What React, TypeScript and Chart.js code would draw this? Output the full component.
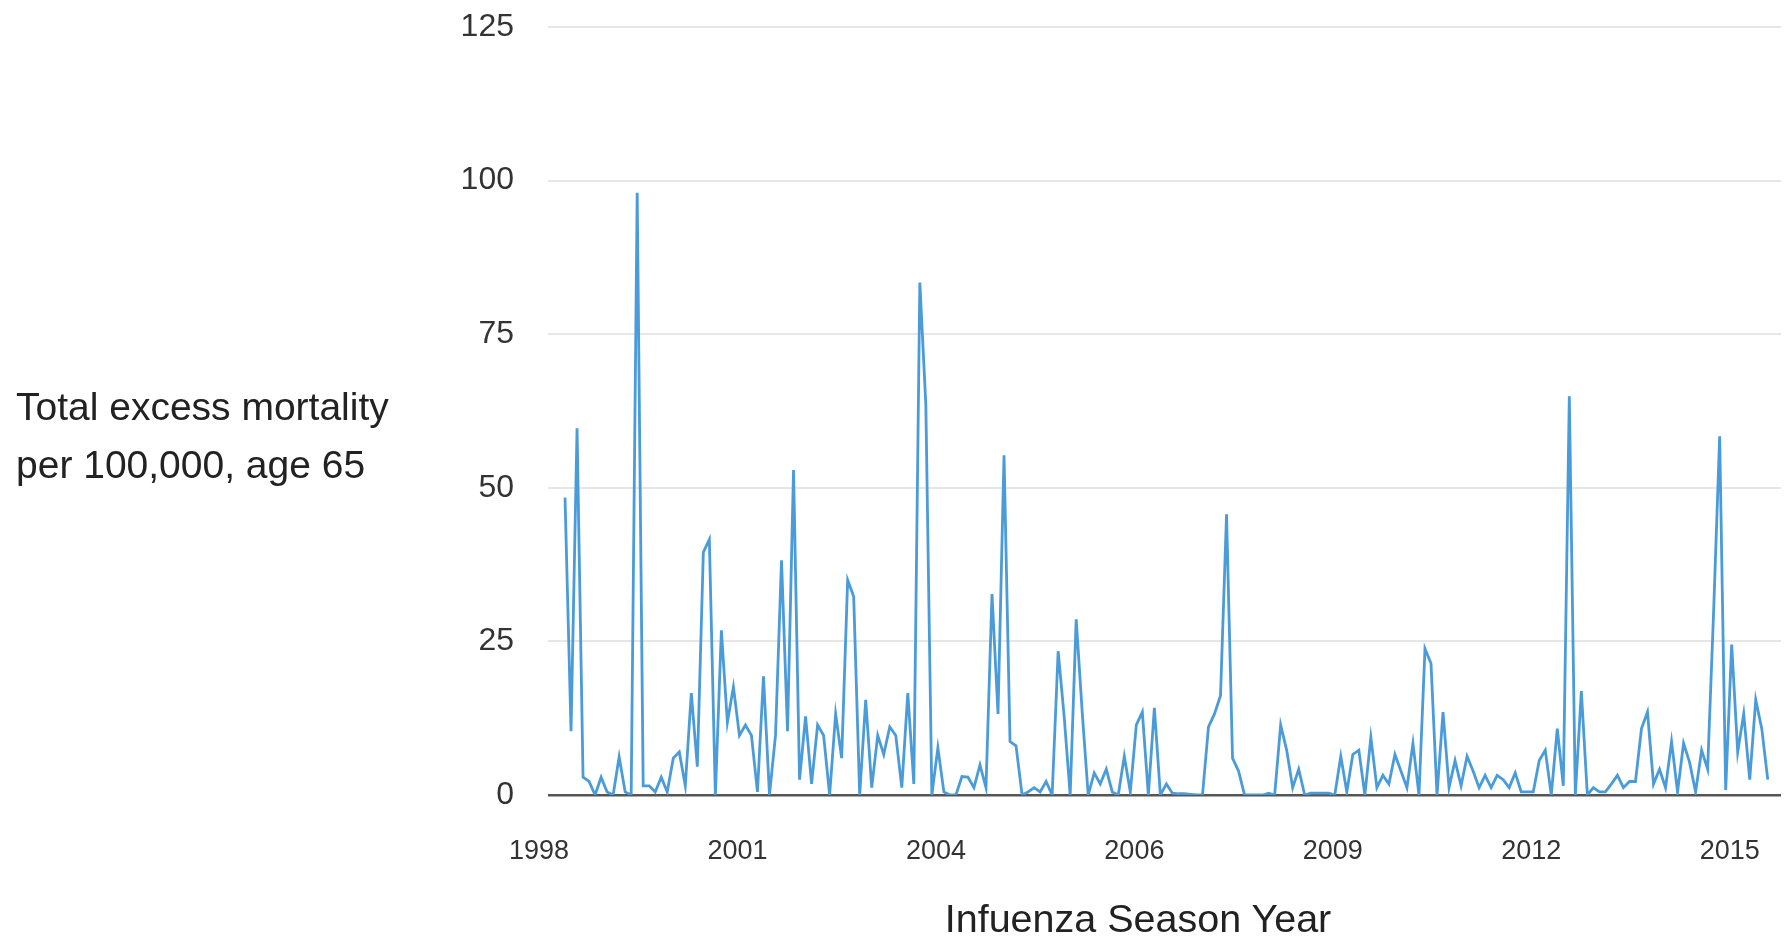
import { useEffect, useRef } from 'react';
import { Chart, registerables } from 'chart.js';

Chart.register(...registerables);

// Monthly excess mortality values
const mortality: number[] = [
  48.4, 10.4, 59.7, 2.9, 2.2, 0, 2.9, 0.5, 0, 6.2,
  0.5, 0, 98, 1.5, 1.5, 0.5, 2.9, 0.5, 6, 7,
  1.5, 16.6, 4.6, 39.5, 41.6, 0, 26.8, 11.8, 17.6, 9.7,
  11.4, 9.7, 0.5, 19.3, 0, 9.7, 38.2, 10.4, 52.9, 2.5,
  12.8, 1.8, 11.4, 9.7, 0, 13.2, 6, 35, 32.3, 0,
  15.5, 1.2, 9.7, 6.6, 11.1, 9.7, 1.2, 16.6, 1.8, 83.4,
  63.5, 0, 7.7, 0.5, 0, 0, 3,
  2.9, 1.2, 4.9, 1.2, 32.7, 13.2, 55.3, 8.7, 8, 0,
  0.5, 1.2, 0.5, 2.2, 0, 23.4, 12.8, 0, 28.6, 13.5,
  0, 3.6, 1.8, 4.2, 0.5, 0, 6.3, 0.5, 11.4, 13.5,
  0, 14.2, 0, 1.8, 0.3, 0.2, 0.2, 0.1, 0, 0,
  11.1, 13.2, 16.2, 45.7, 6, 3.9, 0, 0, 0, 0,
  0.3, 0, 11.4, 7.3, 1.2, 4.2, 0, 0.3, 0.3, 0.3,
  0.3, 0, 6.3, 0.5, 6.6, 7.3,
  0, 9.4, 1.2, 3.2, 1.8, 6.6, 3.9, 1.2, 8.4, 0,
  23.8, 21.4, 0, 13.5, 1.2, 5.6, 1.5, 6.3, 3.9, 1.2,
  3.2, 1.2, 3.2, 2.5, 1.2, 3.6, 0.5, 0.5, 0.5, 5.6,
  7.3, 0, 10.8, 1.5, 64.9, 0, 16.9, 0, 1.2, 0.5,
  0.5, 1.8, 3.2, 1.2, 2.2, 2.2, 10.8, 13.5, 1.8, 4.2,
  1.2, 8.7, 0.5, 8.4, 5.3, 0.5, 7.3, 4.2, 30, 58.4,
  0.8, 24.5, 7, 13.2, 2.5, 15.5, 10.8, 2.5,
];

// X-axis tick labels and the data index each one belongs to
const tickIndices: number[] = [0, 33, 66, 99, 132, 165, 198];
const tickLabels: string[] = ['1998', '2001', '2004', '2006', '2009', '2012', '2015'];

const yMin = 0;
const yMax = 125;
const yStep = 25;

const yTitleLines: string[] = ['Total excess mortality', 'per 100,000, age 65'];
const xTitle = 'Infuenza Season Year';

const FONT = "'Liberation Sans', Arial, Helvetica, sans-serif";

export default function App() {
  const canvasRef = useRef<HTMLCanvasElement | null>(null);

  useEffect(() => {
    const canvas = canvasRef.current;
    if (!canvas) return;
    const points = mortality.map((v, i) => ({ x: i, y: v }));
    const chart = new Chart(canvas, {
      type: 'line',
      data: {
        datasets: [
          {
            data: points,
            borderColor: '#4a9bd9',
            borderWidth: 2.8,
            pointRadius: 0,
            pointHoverRadius: 0,
            fill: false,
            tension: 0,
          },
        ],
      },
      options: {
        animation: false,
        responsive: false,
        maintainAspectRatio: false,
        layout: { padding: { left: 0, right: 9, top: 27, bottom: 0 } },
        plugins: {
          legend: { display: false },
          tooltip: { enabled: false },
          title: { display: false },
        },
        scales: {
          x: {
            type: 'linear',
            min: -2.83,
            max: 202.2,
            grid: { display: false, drawTicks: false },
            border: { display: false },
            afterBuildTicks: (scale: any) => {
              scale.ticks = tickIndices.map((v) => ({ value: v }));
            },
            afterFit: (scale: any) => {
              scale.height = 142;
              scale.paddingLeft = 0;
              scale.paddingRight = 0;
            },
            ticks: {
              autoSkip: false,
              maxRotation: 0,
              minRotation: 0,
              padding: 40,
              labelOffset: -26,
              color: '#333333',
              font: { family: FONT, size: 27 },
              callback: (value: any) => {
                const k = tickIndices.indexOf(Number(value));
                return k >= 0 ? tickLabels[k] : '';
              },
            },
          },
          y: {
            min: yMin,
            max: yMax,
            border: { display: false },
            grid: {
              drawTicks: false,
              color: (ctx: any) => (ctx.tick && ctx.tick.value === 0 ? '#555555' : '#e6e6e6'),
              lineWidth: (ctx: any) => (ctx.tick && ctx.tick.value === 0 ? 2.5 : 2),
            },
            afterFit: (scale: any) => {
              scale.width = 548;
              scale.paddingTop = 0;
              scale.paddingBottom = 0;
            },
            ticks: {
              stepSize: yStep,
              padding: 34,
              color: '#333333',
              font: { family: FONT, size: 32 },
            },
          },
        },
      },
    });
    return () => {
      chart.destroy();
    };
  }, []);

  return (
    <div
      style={{
        position: 'absolute',
        left: 0,
        top: 0,
        width: 1790,
        height: 937,
        background: '#ffffff',
        overflow: 'hidden',
      }}
    >
      <canvas
        ref={canvasRef}
        width={1790}
        height={937}
        style={{ position: 'absolute', left: 0, top: 0, width: 1790, height: 937 }}
      />
      <div
        style={{
          position: 'absolute',
          left: 16,
          top: 378,
          fontFamily: FONT,
          fontSize: 39,
          lineHeight: '58px',
          color: '#222222',
          whiteSpace: 'nowrap',
        }}
      >
        {yTitleLines.map((line) => (
          <div key={line}>{line}</div>
        ))}
      </div>
      <div
        style={{
          position: 'absolute',
          left: 1138,
          top: 899,
          transform: 'translateX(-50%)',
          fontFamily: FONT,
          fontSize: 39.5,
          lineHeight: '39px',
          color: '#222222',
          whiteSpace: 'nowrap',
        }}
      >
        {xTitle}
      </div>
    </div>
  );
}
